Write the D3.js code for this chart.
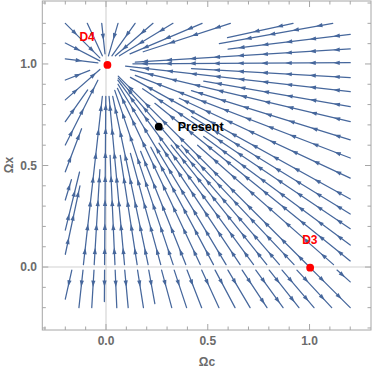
<!DOCTYPE html>
<html><head><meta charset="utf-8">
<script src="https://cdn.jsdelivr.net/npm/d3@7"></script>
<style>body{margin:0;background:#fff}svg{display:block}</style>
</head><body><svg id="c" width="374" height="372"></svg>
<script>
// ---- data (flow goes from [x1,y1] to [x2,y2]) ----
const xTicks = [0, 0.5, 1.0];
const yTicks = [0, 0.5, 1.0];
const xTickLabels = ["0.0", "0.5", "1.0"];
const yTickLabels = ["0.0", "0.5", "1.0"];
const xLabel = "Ωc";
const yLabel = "Ωx";

const topLines = [
  [-0.2, 1.2, -0.03, 1.03],
  [-0.092, 1.2, -0.018, 1.04],
  [-0.021, 1.2, -0.005, 1.05],
  [0.059, 1.2, 0.012, 1.04],
  [0.143, 1.2, 0.029, 1.04],
  [0.231, 1.2, 0.046, 1.04],
  [0.329, 1.2, 0.066, 1.04],
  [0.472, 1.2, 0.118, 1.05],
  [0.611, 1.2, 0.183, 1.06],
  [0.919, 1.2, 0.597, 1.13],
  [1.114, 1.2, 0.557, 1.10]
];
const rightLines = [
  [1.2, 1.146, 0.60, 1.073],
  [1.2, 1.074, 0.144, 1.009],
  [1.2, 1.006, 0.132, 1.001],
  [1.2, 0.933, 0.42, 0.977],
  [1.2, 0.864, 0.096, 0.989],
  [1.2, 0.790, 0.48, 0.916],
  [1.2, 0.716, 0.12, 0.972],
  [1.2, 0.626, 0.42, 0.869],
  [1.2, 0.537, 0.144, 0.944],
  [1.2, 0.438, 0.36, 0.831],
  [1.2, 0.335, 0.12, 0.934],
  [1.2, 0.261, 0.42, 0.741],
  [1.2, 0.189, 0.18, 0.878],
  [1.2, 0.108, 0.48, 0.643],
  [1.2, 0.030, 0.24, 0.806]
];
const leftLines = [
  [-0.2, 1.103, -0.03, 1.015],
  [-0.2, 1.025, -0.04, 1.005],
  [-0.2, 0.921, -0.08, 0.968],
  [-0.2, 0.823, -0.03, 0.973],
  [-0.2, 0.716, -0.09, 0.872],
  [-0.2, 0.601, -0.04, 0.92],
  [-0.2, 0.469, -0.12, 0.681],
  [-0.2, 0.330, -0.17, 0.43],
  [-0.2, 0.182, -0.13, 0.468],
  [-0.2, 0.063, -0.128, 0.40]
];
const lowerLines = [
  [-0.111, 0.012, -0.018, 0.84],
  [-0.058, 0.012, -0.03, 0.48],
  [-0.007, 0.012, -0.001, 0.84],
  [0.044, 0.012, 0.02, 0.55],
  [0.091, 0.012, 0.015, 0.84],
  [0.153, 0.012, 0.07, 0.55],
  [0.207, 0.012, 0.033, 0.84],
  [0.269, 0.012, 0.12, 0.56],
  [0.330, 0.012, 0.043, 0.87],
  [0.392, 0.012, 0.17, 0.57],
  [0.463, 0.012, 0.056, 0.88],
  [0.528, 0.012, 0.22, 0.59],
  [0.590, 0.012, 0.059, 0.90],
  [0.659, 0.012, 0.26, 0.61],
  [0.725, 0.012, 0.058, 0.92],
  [0.790, 0.012, 0.32, 0.60],
  [0.852, 0.012, 0.06, 0.93],
  [0.924, 0.012, 0.37, 0.60],
  [1.0, 0.0, 0.06, 0.94],
  [1.118, 0.012, 0.45, 0.60]
];
const belowLines = [
  [-0.168, -0.015, -0.2, -0.158],
  [-0.113, -0.015, -0.133, -0.2],
  [-0.059, -0.015, -0.07, -0.2],
  [-0.007, -0.015, -0.008, -0.17],
  [0.045, -0.015, 0.053, -0.2],
  [0.092, -0.015, 0.109, -0.2],
  [0.155, -0.015, 0.184, -0.2],
  [0.210, -0.015, 0.24, -0.18],
  [0.273, -0.015, 0.323, -0.2],
  [0.335, -0.015, 0.396, -0.2],
  [0.398, -0.015, 0.470, -0.2],
  [0.470, -0.015, 0.555, -0.2],
  [0.536, -0.015, 0.634, -0.2],
  [0.599, -0.015, 0.708, -0.2],
  [0.669, -0.015, 0.791, -0.2],
  [0.736, -0.015, 0.870, -0.2],
  [0.802, -0.015, 0.948, -0.2],
  [0.865, -0.015, 1.022, -0.2],
  [0.938, -0.015, 1.109, -0.2],
  [1.015, -0.015, 1.2, -0.2],
  [1.135, -0.015, 1.2, -0.073]
];
const points = [
  {name: "D4", x: 0.007, y: 0.995, color: "#ff0000"},
  {name: "Present", x: 0.259, y: 0.691, color: "#000000"},
  {name: "D3", x: 1.003, y: -0.003, color: "#ff0000"}
];

// ---- layout ----
const svg = d3.select("#c");
const xDomain = [-0.313, 1.302], yDomain = [-0.31, 1.31];
const x = d3.scaleLinear().domain(xDomain).range([42.3, 371]);
const y = d3.scaleLinear().domain(yDomain).range([330, 1]);
const lineColor = "#46679c";

// gridlines
svg.append("line").attr("x1", x(0)).attr("x2", x(0)).attr("y1", y(yDomain[1])).attr("y2", y(yDomain[0]))
  .attr("stroke", "#d2d2d2").attr("stroke-width", 1.1);
svg.append("line").attr("x1", x(xDomain[0])).attr("x2", x(xDomain[1])).attr("y1", y(0)).attr("y2", y(0))
  .attr("stroke", "#d2d2d2").attr("stroke-width", 1.1);

// streamlines
const allLines = [].concat(topLines, rightLines, leftLines, lowerLines, belowLines);
const g = svg.append("g");
allLines.forEach(l => {
  const p1 = [x(l[0]), y(l[1])], p2 = [x(l[2]), y(l[3])];
  g.append("line").attr("x1", p1[0]).attr("y1", p1[1]).attr("x2", p2[0]).attr("y2", p2[1])
    .attr("stroke", lineColor).attr("stroke-width", 1.25).attr("stroke-linecap", "round");
  const dx = p2[0] - p1[0], dy = p2[1] - p1[1];
  const L = Math.hypot(dx, dy);
  const ux = dx / L, uy = dy / L;
  const pos = [];
  if (L < 20) pos.push(L * 0.6);
  else for (let s = 17; s < L - 3; s += 24) pos.push(s);
  pos.forEach(s => {
    const tx = p1[0] + ux * s, ty = p1[1] + uy * s;
    const bx = tx - ux * 6.5, by = ty - uy * 6.5;
    const w = 2.1;
    g.append("path")
      .attr("d", `M${tx},${ty}L${bx - uy * w},${by + ux * w}L${bx + uy * w},${by - ux * w}Z`)
      .attr("fill", lineColor);
  });
});

// frame
const frameColor = "#a6a6a6";
svg.append("rect").attr("x", x(xDomain[0])).attr("y", y(yDomain[1]))
  .attr("width", x(xDomain[1]) - x(xDomain[0])).attr("height", y(yDomain[0]) - y(yDomain[1]))
  .attr("fill", "none").attr("stroke", frameColor).attr("stroke-width", 1);

const minor = d3.range(-3, 14).map(i => +(i * 0.1).toFixed(1));
minor.forEach(v => {
  const isMajor = Math.abs(v * 2 - Math.round(v * 2)) < 1e-6;
  const len = isMajor ? 6 : 3.5;
  if (v > xDomain[0] + 0.005 && v < xDomain[1] - 0.005) {
    svg.append("line").attr("x1", x(v)).attr("x2", x(v)).attr("y1", y(yDomain[0])).attr("y2", y(yDomain[0]) - len).attr("stroke", frameColor);
    svg.append("line").attr("x1", x(v)).attr("x2", x(v)).attr("y1", y(yDomain[1])).attr("y2", y(yDomain[1]) + len).attr("stroke", frameColor);
  }
  if (v > yDomain[0] + 0.005 && v < yDomain[1] - 0.005) {
    svg.append("line").attr("y1", y(v)).attr("y2", y(v)).attr("x1", x(xDomain[0])).attr("x2", x(xDomain[0]) + len).attr("stroke", frameColor);
    svg.append("line").attr("y1", y(v)).attr("y2", y(v)).attr("x1", x(xDomain[1])).attr("x2", x(xDomain[1]) - len).attr("stroke", frameColor);
  }
});

const tickFont = "Liberation Sans, Arial, sans-serif";
xTicks.forEach((v, i) => {
  svg.append("text").attr("x", x(v)).attr("y", 345).attr("text-anchor", "middle")
    .attr("font-family", tickFont).attr("font-size", 12).attr("font-weight", "bold").attr("fill", "#6b6b6b")
    .text(xTickLabels[i]);
});
yTicks.forEach((v, i) => {
  svg.append("text").attr("x", 37).attr("y", y(v) + 4).attr("text-anchor", "end")
    .attr("font-family", tickFont).attr("font-size", 12).attr("font-weight", "bold").attr("fill", "#6b6b6b")
    .text(yTickLabels[i]);
});
svg.append("text").attr("x", 207).attr("y", 366).attr("text-anchor", "middle")
  .attr("font-family", tickFont).attr("font-size", 12).attr("font-weight", "bold").attr("fill", "#6b6b6b").text(xLabel);
svg.append("text").attr("transform", "translate(13,165) rotate(-90)").attr("text-anchor", "middle")
  .attr("font-family", tickFont).attr("font-size", 12).attr("font-weight", "bold").attr("fill", "#6b6b6b").text(yLabel);

// points
points.forEach(p => {
  svg.append("circle").attr("cx", x(p.x)).attr("cy", y(p.y)).attr("r", 3.9).attr("fill", p.color);
});
const labelFont = "Liberation Sans, Arial, sans-serif";
svg.append("text").attr("x", x(points[0].x) - 28).attr("y", y(points[0].y) - 24)
  .attr("font-family", labelFont).attr("font-size", 12).attr("font-weight", "bold").attr("fill", "#ff0000").text(points[0].name);
svg.append("text").attr("x", x(points[1].x) + 19).attr("y", y(points[1].y) + 4.5)
  .attr("font-family", labelFont).attr("font-size", 12.5).attr("font-weight", "bold").attr("fill", "#000").text(points[1].name);
svg.append("text").attr("x", x(points[2].x) - 8).attr("y", y(points[2].y) - 24)
  .attr("font-family", labelFont).attr("font-size", 12).attr("font-weight", "bold").attr("fill", "#ff0000").text(points[2].name);
</script></body></html>
